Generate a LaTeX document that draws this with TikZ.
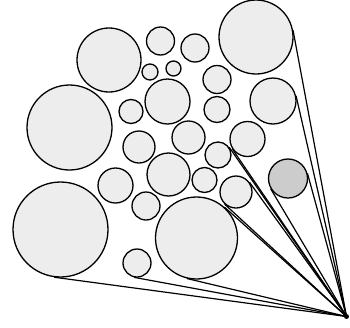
\documentclass[tikz,border=0pt]{standalone}
\usetikzlibrary{calc}
\definecolor{ballfill}{HTML}{EDEDED}
\definecolor{grayfill}{HTML}{CCCCCC}
\begin{document}
\begin{tikzpicture}[x=1pt,y=-1pt,
  ball/.style={circle,draw=black,fill=ballfill,line width=1.3pt,inner sep=0pt},
  gball/.style={ball,fill=grayfill},
  ray/.style={draw=black,line width=1.2pt},
  dot/.style={circle,fill=black,inner sep=0pt,minimum size=5pt}]
\useasboundingbox (0,0) rectangle (350,327);
\coordinate (apex) at (346.5,316.5);
% circles
\node[ball,minimum size=64pt] (c1) at (109,60) {};
\node[ball,minimum size=85pt] (c2) at (69.5,127.5) {};
\node[ball,minimum size=95pt] (c3) at (60.5,229.5) {};
\node[ball,minimum size=74pt] (c4) at (256,37) {};
\node[ball,minimum size=46pt] (c5) at (273,101) {};
\node[gball,minimum size=39pt] (c6) at (288,178.5) {};
\node[ball,minimum size=82pt] (c7) at (196.5,238) {};
\node[ball,minimum size=28pt] (c8) at (137,263) {};
\node[ball,minimum size=28pt] (c9) at (160.5,41) {};
\node[ball,minimum size=28pt] (c10) at (195,48) {};
\node[ball,minimum size=16pt] (c11) at (150,72) {};
\node[ball,minimum size=15pt] (c12) at (173.5,68.5) {};
\node[ball,minimum size=45pt] (c13) at (167.5,101.5) {};
\node[ball,minimum size=28pt] (c14) at (217,79.5) {};
\node[ball,minimum size=26pt] (c15) at (217,109.5) {};
\node[ball,minimum size=24pt] (c16) at (131,111.5) {};
\node[ball,minimum size=33pt] (c17) at (188.5,137.5) {};
\node[ball,minimum size=35pt] (c18) at (247.5,139) {};
\node[ball,minimum size=32pt] (c19) at (139,147) {};
\node[ball,minimum size=43pt] (c20) at (168.5,174.5) {};
\node[ball,minimum size=26pt] (c21) at (218,155) {};
\node[ball,minimum size=25pt] (c22) at (204.5,180) {};
\node[ball,minimum size=35pt] (c23) at (115.5,185.5) {};
\node[ball,minimum size=28pt] (c24) at (146,206) {};
\node[ball,minimum size=32pt] (c25) at (236,192) {};
% rays
\draw[ray] (apex) -- (tangent cs:node=c4,point={(apex)},solution=1);
\draw[ray] (apex) -- (tangent cs:node=c5,point={(apex)},solution=1);
\draw[ray] (apex) -- (tangent cs:node=c6,point={(apex)},solution=1);
\draw[ray] (apex) -- (tangent cs:node=c6,point={(apex)},solution=2);
\draw[ray] (apex) -- (tangent cs:node=c21,point={(apex)},solution=1);
\draw[ray] (apex) -- (tangent cs:node=c18,point={(apex)},solution=2);
\draw[ray] (apex) -- (tangent cs:node=c25,point={(apex)},solution=1);
\draw[ray] (apex) -- (tangent cs:node=c25,point={(apex)},solution=2);
\draw[ray] (apex) -- (tangent cs:node=c7,point={(apex)},solution=1);
\draw[ray] (apex) -- (tangent cs:node=c7,point={(apex)},solution=2);
\draw[ray] (apex) -- (tangent cs:node=c8,point={(apex)},solution=2);
\draw[ray] (apex) -- (tangent cs:node=c3,point={(apex)},solution=2);
\node[dot] (apexdot) at (apex) {};
\end{tikzpicture}
\end{document}
